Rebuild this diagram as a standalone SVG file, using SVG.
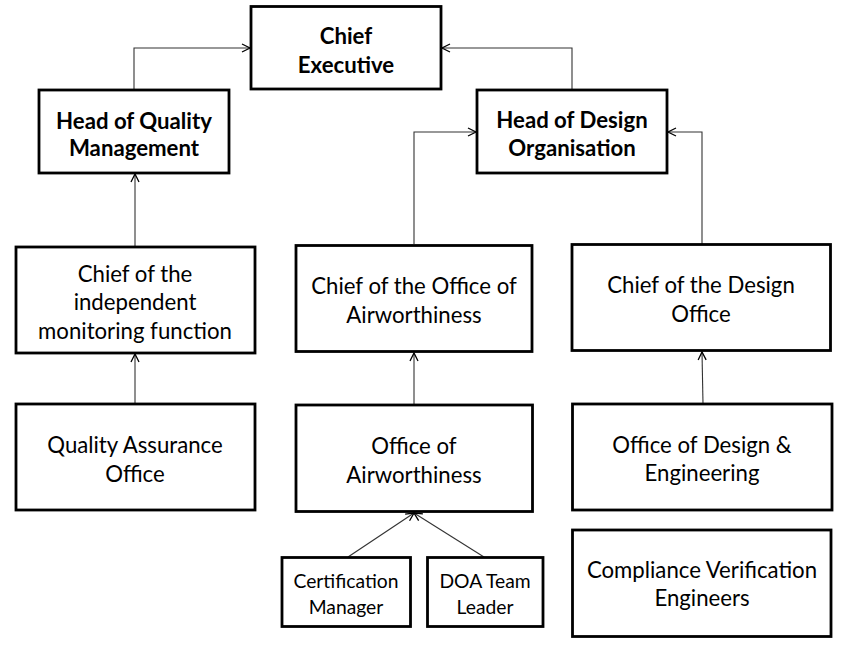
<svg xmlns="http://www.w3.org/2000/svg" width="849" height="652" viewBox="0 0 849 652">
<defs>
<marker id="arr" markerWidth="12" markerHeight="12" refX="9" refY="5" orient="auto" markerUnits="userSpaceOnUse">
<path d="M1,1 L9,5 L1,9" fill="none" stroke="#000" stroke-width="1.3"/>
</marker>
</defs>
<style>
.box{fill:#fff;stroke:#000;stroke-width:2.8}
.t{font-family:Lato,"Liberation Sans",sans-serif;font-size:22.2px;fill:#000;text-anchor:middle}
.b{font-weight:bold}
.s{font-size:19.3px}
.c{fill:none;stroke:#333;stroke-width:1.1;marker-end:url(#arr)}
</style>
<rect width="849" height="652" fill="#fff"/>
<g id="connectors">
<path class="c" d="M134,89 V48 H250"/>
<path class="c" d="M572,89 V48 H442"/>
<path class="c" d="M414,244 V132 H476"/>
<path class="c" d="M702,244 V132 H668"/>
<path class="c" d="M135,246 V174"/>
<path class="c" d="M135,403 V354"/>
<path class="c" d="M414,404 V353"/>
<path class="c" d="M703,404 L702,352"/>
<path class="c" d="M348,557 L414,513"/>
<path class="c" d="M484,557 L414,513"/>
</g>
<g id="chief-executive">
<rect class="box" x="251" y="6.5" width="190" height="82.5"/>
<text class="t b" x="346" y="44">Chief</text>
<text class="t b" x="346" y="73">Executive</text>
</g>
<g id="head-quality">
<rect class="box" x="39" y="90" width="190" height="83"/>
<text class="t b" x="134" y="129">Head of Quality</text>
<text class="t b" x="134" y="156">Management</text>
</g>
<g id="head-design">
<rect class="box" x="477" y="90" width="190" height="83"/>
<text class="t b" x="572" y="128">Head of Design</text>
<text class="t b" x="572" y="156">Organisation</text>
</g>
<g id="chief-monitoring">
<rect class="box" x="16" y="247" width="239" height="106"/>
<text class="t" x="135" y="282">Chief of the</text>
<text class="t" x="135" y="310">independent</text>
<text class="t" x="135" y="339">monitoring function</text>
</g>
<g id="chief-airworthiness">
<rect class="box" x="296" y="245.5" width="236" height="106"/>
<text class="t" x="414" y="294">Chief of the Office of</text>
<text class="t" x="414" y="323">Airworthiness</text>
</g>
<g id="chief-design-office">
<rect class="box" x="572" y="244.5" width="258.5" height="106"/>
<text class="t" x="701" y="293">Chief of the Design</text>
<text class="t" x="701" y="322">Office</text>
</g>
<g id="quality-assurance">
<rect class="box" x="16" y="404" width="239" height="106"/>
<text class="t" x="135" y="453">Quality Assurance</text>
<text class="t" x="135" y="482">Office</text>
</g>
<g id="office-airworthiness">
<rect class="box" x="296" y="405" width="236.5" height="106.5"/>
<text class="t" x="414" y="454">Office of</text>
<text class="t" x="414" y="483">Airworthiness</text>
</g>
<g id="office-design-engineering">
<rect class="box" x="572.5" y="404" width="259.5" height="106"/>
<text class="t" x="702" y="453">Office of Design &amp;</text>
<text class="t" x="702" y="481">Engineering</text>
</g>
<g id="certification-manager">
<rect class="box" x="282" y="557.5" width="128.5" height="69"/>
<text class="t s" x="346" y="588">Certification</text>
<text class="t s" x="346" y="614">Manager</text>
</g>
<g id="doa-team-leader">
<rect class="box" x="427.5" y="557.5" width="115.5" height="69"/>
<text class="t s" x="485" y="588">DOA Team</text>
<text class="t s" x="485" y="614">Leader</text>
</g>
<g id="compliance-verification">
<rect class="box" x="572.5" y="530" width="258.5" height="106.5"/>
<text class="t" x="702" y="578">Compliance Verification</text>
<text class="t" x="702" y="606">Engineers</text>
</g>
</svg>
